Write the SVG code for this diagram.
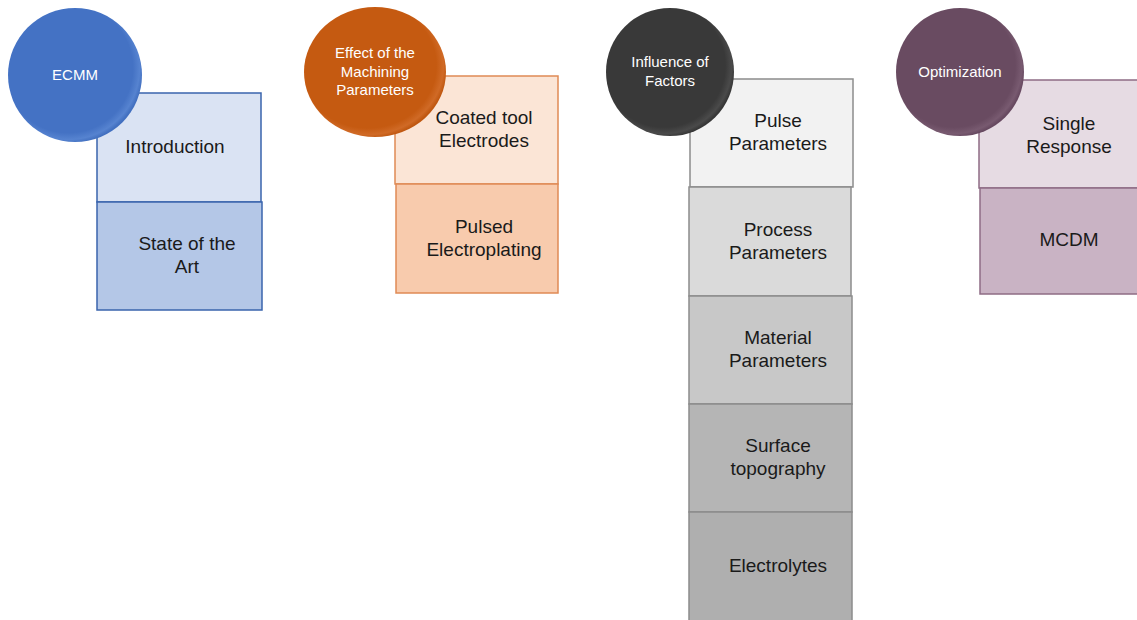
<svg xmlns="http://www.w3.org/2000/svg" width="1137" height="620" viewBox="0 0 1137 620">
<style>
.box{stroke-width:1.5}
.bt{font-family:"Liberation Sans",Arial,sans-serif;font-size:19px;fill:#1a1a1a;text-anchor:middle}
.ct{font-family:"Liberation Sans",Arial,sans-serif;font-size:15px;fill:#ffffff;text-anchor:middle}
.blue{stroke:#3a64ad}
.orange{stroke:#e08a55}
.grey{stroke:#8c8c8c}
.purple{stroke:#8e6c85}
</style>
<defs>
<radialGradient id="gBlue" cx="0.45" cy="0.45" r="0.56"><stop offset="0.86" stop-color="#4472c4"/><stop offset="0.95" stop-color="#5683d0"/><stop offset="1" stop-color="#4270c0"/></radialGradient>
<radialGradient id="gOrange" cx="0.45" cy="0.45" r="0.56"><stop offset="0.86" stop-color="#c55a11"/><stop offset="0.95" stop-color="#d06a26"/><stop offset="1" stop-color="#c05811"/></radialGradient>
<radialGradient id="gDark" cx="0.45" cy="0.45" r="0.56"><stop offset="0.86" stop-color="#393939"/><stop offset="0.95" stop-color="#4a4a4a"/><stop offset="1" stop-color="#373737"/></radialGradient>
<radialGradient id="gPurple" cx="0.45" cy="0.45" r="0.56"><stop offset="0.86" stop-color="#694b61"/><stop offset="0.95" stop-color="#785a70"/><stop offset="1" stop-color="#674960"/></radialGradient>
</defs>
<rect width="1137" height="620" fill="#ffffff"/>
<g id="connectors"></g>

<g id="introduction">
<rect class="box blue" x="97" y="93" width="164" height="109" fill="#dae3f3"/>
<text class="bt" x="175" y="153">Introduction</text>
</g>
<g id="state-of-the-art">
<rect class="box blue" x="97" y="202" width="165" height="108" fill="#b4c7e7"/>
<text class="bt" x="187" y="250">State of the</text>
<text class="bt" x="187" y="273">Art</text>
</g>
<g id="ecmm">
<circle cx="75" cy="75" r="67" fill="url(#gBlue)"/>
<text class="ct" x="75" y="80">ECMM</text>
</g>

<g id="coated-tool-electrodes">
<rect class="box orange" x="395" y="76" width="163" height="108" fill="#fbe5d6"/>
<text class="bt" x="484" y="124">Coated tool</text>
<text class="bt" x="484" y="147">Electrodes</text>
</g>
<g id="pulsed-electroplating">
<rect class="box orange" x="396" y="184" width="162" height="109" fill="#f8cbad"/>
<text class="bt" x="484" y="233">Pulsed</text>
<text class="bt" x="484" y="256">Electroplating</text>
</g>
<g id="effect-of-machining-parameters">
<ellipse cx="375" cy="72" rx="71" ry="65" fill="url(#gOrange)"/>
<text class="ct" x="375" y="58">Effect of the</text>
<text class="ct" x="375" y="77">Machining</text>
<text class="ct" x="375" y="95">Parameters</text>
</g>

<g id="pulse-parameters">
<rect class="box grey" x="690" y="79" width="163" height="108" fill="#f2f2f2"/>
<text class="bt" x="778" y="127">Pulse</text>
<text class="bt" x="778" y="150">Parameters</text>
</g>
<g id="process-parameters">
<rect class="box grey" x="689" y="187" width="162" height="109" fill="#dadada"/>
<text class="bt" x="778" y="236">Process</text>
<text class="bt" x="778" y="259">Parameters</text>
</g>
<g id="material-parameters">
<rect class="box grey" x="689" y="296" width="163" height="108" fill="#c8c8c8"/>
<text class="bt" x="778" y="344">Material</text>
<text class="bt" x="778" y="367">Parameters</text>
</g>
<g id="surface-topography">
<rect class="box grey" x="689" y="404" width="163" height="108" fill="#b5b5b5"/>
<text class="bt" x="778" y="452">Surface</text>
<text class="bt" x="778" y="475">topography</text>
</g>
<g id="electrolytes">
<rect class="box grey" x="689" y="512" width="163" height="112" fill="#afafaf"/>
<text class="bt" x="778" y="572">Electrolytes</text>
</g>
<g id="influence-of-factors">
<circle cx="670" cy="72" r="64" fill="url(#gDark)"/>
<text class="ct" x="670" y="67">Influence of</text>
<text class="ct" x="670" y="86">Factors</text>
</g>

<g id="single-response">
<rect class="box purple" x="979" y="80" width="170" height="108" fill="#e6dbe3"/>
<text class="bt" x="1069" y="130">Single</text>
<text class="bt" x="1069" y="153">Response</text>
</g>
<g id="mcdm">
<rect class="box purple" x="980" y="188" width="170" height="106" fill="#c9b3c4"/>
<text class="bt" x="1069" y="246">MCDM</text>
</g>
<g id="optimization">
<circle cx="960" cy="72" r="64" fill="url(#gPurple)"/>
<text class="ct" x="960" y="77">Optimization</text>
</g>
</svg>
